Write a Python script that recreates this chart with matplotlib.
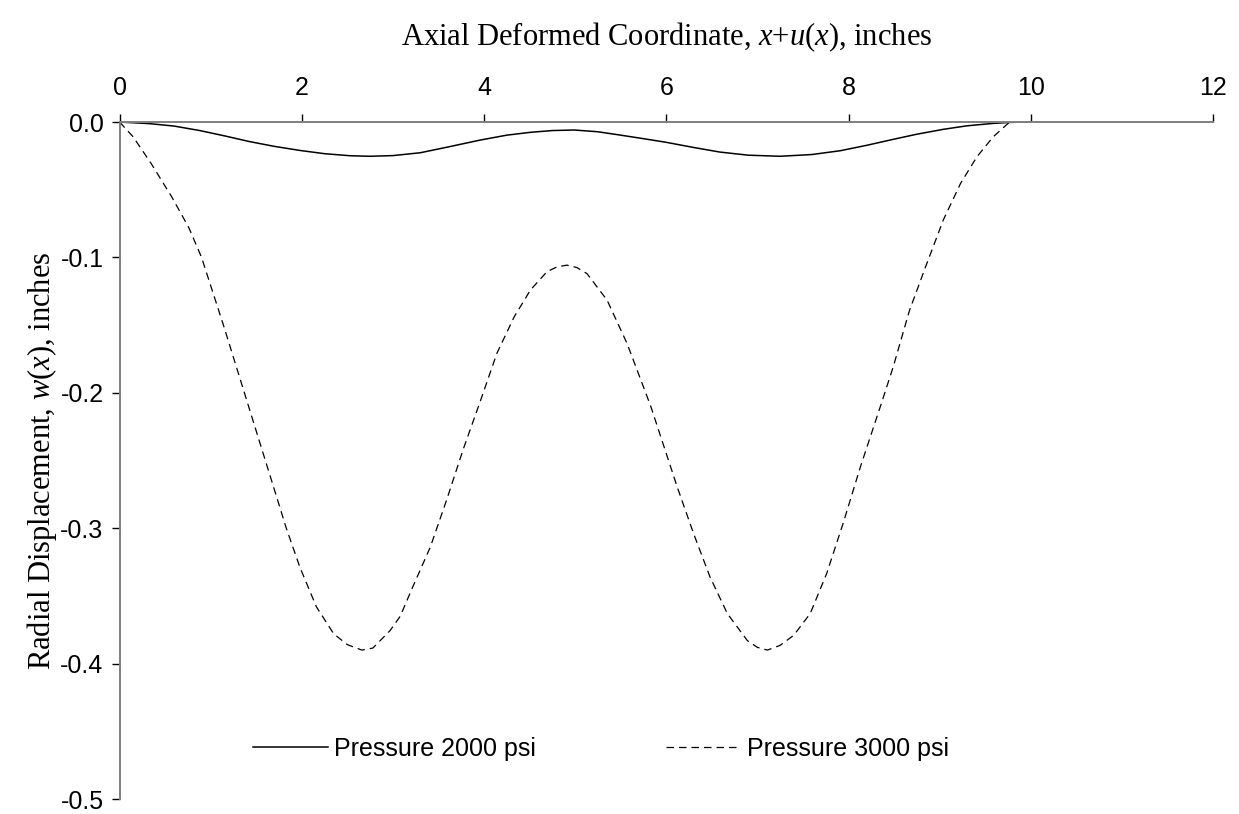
import matplotlib
matplotlib.use("Agg")
import matplotlib.pyplot as plt

# values (x in inches, w in inches)
x_2000 = [0.0, 0.33, 0.6, 0.88, 1.15, 1.43, 1.7, 1.98, 2.25, 2.53, 2.75, 3.0, 3.3,
          3.6, 3.96, 4.25, 4.51, 4.75, 4.99, 5.25, 5.49, 5.75, 6.0, 6.3, 6.59, 6.9,
          7.25, 7.6, 7.91, 8.2, 8.49, 8.75, 9.04, 9.3, 9.59, 9.8, 9.99]
w_2000 = [0.0, -0.0012, -0.003, -0.0063, -0.0102, -0.0145, -0.0180, -0.0210, -0.0234,
          -0.0249, -0.0253, -0.0248, -0.0227, -0.0185, -0.0133, -0.0097, -0.0076,
          -0.0063, -0.0059, -0.0072, -0.0096, -0.0123, -0.0150, -0.0188, -0.0222,
          -0.0245, -0.0253, -0.0240, -0.0212, -0.0172, -0.0128, -0.0090, -0.0054,
          -0.0028, -0.0010, -0.0002, 0.0]

x_3000 = [0.0, 0.15, 0.35, 0.57, 0.76, 0.90, 1.14, 1.37, 1.60, 1.83, 1.98,
          2.16, 2.35, 2.5, 2.66, 2.78, 2.97, 3.08, 3.22, 3.41, 3.59, 3.77, 3.96,
          4.14, 4.33, 4.51, 4.69, 4.8, 4.91, 5.02, 5.13, 5.35, 5.57, 5.83, 6.12,
          6.30, 6.48, 6.67, 6.89, 7.0, 7.11, 7.25, 7.40, 7.58, 7.76, 7.94, 8.13,
          8.35, 8.49, 8.67, 8.86, 9.04, 9.23, 9.41, 9.59, 9.76]
w_3000 = [0.0, -0.011, -0.031, -0.055, -0.078, -0.100, -0.150, -0.200, -0.250,
          -0.300, -0.329, -0.358, -0.378, -0.386, -0.390, -0.3885, -0.3755,
          -0.365, -0.343, -0.314, -0.279, -0.242, -0.206, -0.171, -0.144, -0.124,
          -0.1106, -0.107, -0.1057, -0.1075, -0.112, -0.1315, -0.1636, -0.210,
          -0.2695, -0.304, -0.336, -0.363, -0.383, -0.388, -0.390, -0.3865, -0.379,
          -0.363, -0.3335, -0.2966, -0.2548, -0.210, -0.181, -0.139, -0.1044,
          -0.0724, -0.0453, -0.0256, -0.0108, -0.0005]

x_ticks = [0, 2, 4, 6, 8, 10, 12]
y_ticks = [0.0, -0.1, -0.2, -0.3, -0.4, -0.5]

plt.rcParams['mathtext.fontset'] = 'custom'
plt.rcParams['mathtext.rm'] = 'Liberation Serif'
plt.rcParams['mathtext.it'] = 'Liberation Serif:italic'

fig = plt.figure(figsize=(12.39, 8.14), dpi=100)
ax = fig.add_axes([0.0965, 0.0184, 0.8825, 0.8317])

ax.plot(x_2000, w_2000, color='black', lw=1.1, label='Pressure 2000 psi')
ax.plot(x_3000, w_3000, color='black', lw=0.9, dashes=(6, 4), label='Pressure 3000 psi')

ax.set_xlim(0, 12)
ax.set_ylim(-0.5, 0.0)
ax.xaxis.tick_top()
ax.xaxis.set_label_position('top')
ax.set_xticks(x_ticks)
ax.set_yticks(y_ticks)
ax.set_yticklabels([f'{v:.1f}' for v in y_ticks])

for side in ['right', 'bottom']:
    ax.spines[side].set_visible(False)
for side in ['left', 'top']:
    ax.spines[side].set_color('#7f7f7f')
    ax.spines[side].set_linewidth(1.4)

ax.tick_params(direction='out', length=5.5, width=1, color='black',
               labelsize=18, labelfontfamily='Liberation Sans')
ax.tick_params(axis='x', pad=10)
ax.tick_params(axis='y', pad=6)

ax.set_xlabel('Axial Deformed Coordinate, $x$+$u$($x$), inches',
              fontsize=22, family='Liberation Serif')
ax.xaxis.set_label_coords(0.5, 1.113)
ax.set_ylabel('Radial Displacement, $w$($x$), inches',
              fontsize=22, family='Liberation Serif')
ax.yaxis.set_label_coords(-0.055, 0.5)

fig.legend(loc='center', bbox_to_anchor=(0.485, 0.08), ncol=2, frameon=False,
           handlelength=3.0, columnspacing=5.2, handletextpad=0.25,
           prop={'family': 'Liberation Sans', 'size': 18})

fig.savefig('out.png', dpi=100)
